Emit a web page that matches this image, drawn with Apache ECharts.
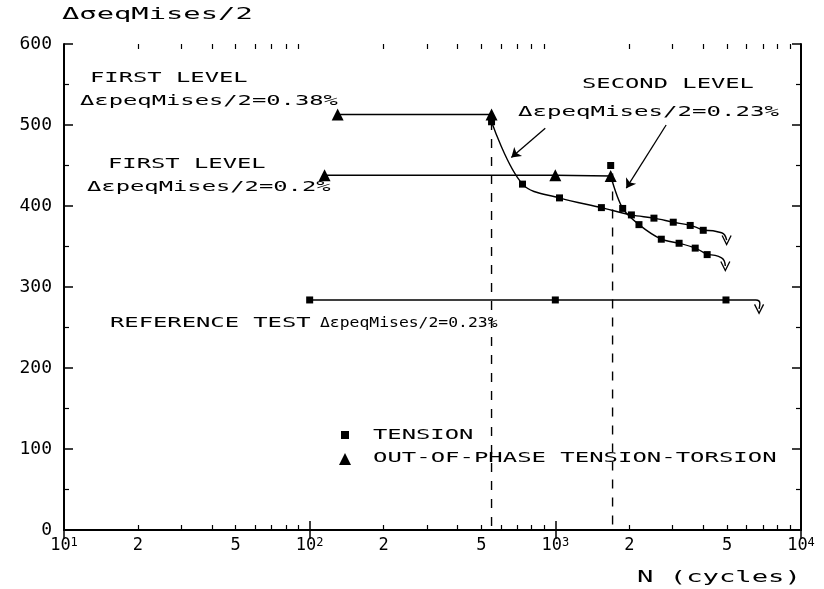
<!DOCTYPE html>
<html>
  <head>
    <meta charset="utf-8" />
  </head>
  <body style="margin: 0">
    <div id="container" style="width: 824px; height: 589px"></div>
    <script src="https://cdn.jsdelivr.net/npm/echarts@6/dist/echarts.min.js"></script>
    <script>
      var FONT = "DejaVu Sans Mono";

      // N (cycles) vs stress amplitude
      var refTest = [[100, 284], [1000, 284], [4950, 284]];
      var refRunout = [[4950, 284], [6550, 284], [6800, 280], [6750, 273]];

      var firstHigh = [[130, 513], [550, 513]];
      var firstLow = [[115, 438], [1000, 438], [1680, 437]];

      var tensionA = [[550, 504], [735, 427], [1040, 410], [1540, 398], [2040, 389],
        [2520, 385], [3020, 380], [3540, 376], [4000, 370]];
      var runoutA = [[4000, 370], [4750, 367], [4980, 358]];

      var tensionB = [[1680, 437], [1880, 397], [2190, 377], [2700, 359], [3190, 354],
        [3710, 348], [4150, 340]];
      var runoutB = [[4150, 340], [4750, 336], [4920, 326]];
      var tensionPeak = [[1680, 450]];

      var dashA = [[550, 505], [550, 0]];
      var dashB = [[1710, 440], [1710, 0]];

      var arrowA = [[910, 496], [662, 460]];
      var arrowB = [[2825, 500], [1945, 422]];

      var xLabelValues = [10, 20, 50, 100, 200, 500, 1000, 2000, 5000, 10000];
      var decades = [10, 100, 1000, 10000];
      var minorTicks = [20, 30, 40, 50, 60, 70, 80, 90, 200, 300, 400, 500, 600, 700, 800, 900,
        2000, 3000, 4000, 5000, 6000, 7000, 8000, 9000];

      var vee = "path://M0,0 L5,8 L10,0";

      function txt(x, y, s, size, sx) {
        return {
          type: "text",
          x: x,
          y: y,
          scaleX: sx,
          style: {
            text: s,
            font: size + "px " + FONT,
            fill: "#000",
            verticalAlign: "middle"
          }
        };
      }

      function withEnd(arr) {
        return arr.map(function (p, i) {
          if (i === arr.length - 1) {
            return { value: p, symbol: vee, symbolSize: [9, 9] };
          }
          return { value: p, symbol: "none" };
        });
      }

      var black = "#000";
      var lineW = 1.4;

      var dom = document.getElementById("container");
      var myChart = echarts.init(dom);

      var xMajor = {
        type: "log",
        logBase: 10,
        min: 10,
        max: 10000,
        axisLine: { show: true, lineStyle: { color: black, width: 2 } },
        axisTick: { show: true, inside: true, length: 9, customValues: decades, lineStyle: { color: black, width: 1.5 } },
        splitLine: { show: false }
      };

      var option = {
        animation: false,
        backgroundColor: "#fff",
        grid: [
          { left: 64, right: 23, top: 44, bottom: 59 },
          { left: 64, right: 23, top: 44, bottom: 59 }
        ],
        xAxis: [
          Object.assign({}, xMajor, {
            gridIndex: 0,
            position: "bottom",
            axisLabel: {
              customValues: xLabelValues,
              margin: 7,
              color: black,
              fontFamily: FONT,
              fontSize: 17,
              rich: {
                b: { fontFamily: FONT, fontSize: 17, color: black },
                e: { fontFamily: FONT, fontSize: 12, color: black, verticalAlign: "top", padding: [0, 0, 6, 0] }
              },
              formatter: function (v) {
                var e = Math.round(Math.log10(v));
                if (Math.abs(v - Math.pow(10, e)) < 1e-6) return "{b|10}{e|" + e + "}";
                return String(Math.round(v / Math.pow(10, Math.floor(Math.log10(v) + 1e-9))));
              }
            }
          }),
          Object.assign({}, xMajor, { gridIndex: 0, position: "top", axisLabel: { show: false } }),
          {
            gridIndex: 1, type: "log", min: 10, max: 10000, position: "bottom",
            axisLine: { show: false }, axisLabel: { show: false }, splitLine: { show: false },
            axisTick: { show: true, inside: true, length: 5, customValues: minorTicks, lineStyle: { color: black, width: 1.2 } }
          },
          {
            gridIndex: 1, type: "log", min: 10, max: 10000, position: "top",
            axisLine: { show: false }, axisLabel: { show: false }, splitLine: { show: false },
            axisTick: { show: true, inside: true, length: 5, customValues: minorTicks, lineStyle: { color: black, width: 1.2 } }
          }
        ],
        yAxis: [
          {
            gridIndex: 0, type: "value", min: 0, max: 600, interval: 100, position: "left",
            axisLine: { show: true, lineStyle: { color: black, width: 2 } },
            axisTick: { show: true, inside: true, length: 9, lineStyle: { color: black, width: 1.5 } },
            minorTick: { show: true, splitNumber: 2, length: 5, lineStyle: { color: black, width: 1.2 } },
            splitLine: { show: false },
            axisLabel: { margin: 12, color: black, fontFamily: FONT, fontSize: 18 }
          },
          {
            gridIndex: 0, type: "value", min: 0, max: 600, interval: 100, position: "right",
            axisLine: { show: true, lineStyle: { color: black, width: 2 } },
            axisTick: { show: true, inside: true, length: 9, lineStyle: { color: black, width: 1.5 } },
            minorTick: { show: true, splitNumber: 2, length: 5, lineStyle: { color: black, width: 1.2 } },
            splitLine: { show: false },
            axisLabel: { show: false }
          },
          { gridIndex: 1, type: "value", min: 0, max: 600, show: false }
        ],
        series: [
          {
            name: "reference", type: "line", data: refTest,
            symbol: "rect", symbolSize: 7, itemStyle: { color: black },
            lineStyle: { color: black, width: lineW }
          },
          {
            name: "reference runout", type: "line", data: withEnd(refRunout), smooth: 0.5,
            itemStyle: { color: "transparent", borderColor: black, borderWidth: 1.3 },
            lineStyle: { color: black, width: lineW }
          },
          {
            name: "first 0.38", type: "line", data: firstHigh,
            symbol: "triangle", symbolSize: 12, itemStyle: { color: black },
            lineStyle: { color: black, width: lineW }
          },
          {
            name: "first 0.2", type: "line", data: firstLow,
            symbol: "triangle", symbolSize: 12, itemStyle: { color: black },
            lineStyle: { color: black, width: lineW }
          },
          {
            name: "tension A", type: "line", data: tensionA, smooth: 0.35,
            symbol: "rect", symbolSize: 7, itemStyle: { color: black },
            lineStyle: { color: black, width: lineW },
            markLine: {
              silent: true,
              symbol: ["none", "arrow"],
              symbolSize: 9,
              label: { show: false },
              lineStyle: { color: black, width: 1.3, type: "solid" },
              data: [
                [{ coord: arrowA[0] }, { coord: arrowA[1] }],
                [{ coord: arrowB[0] }, { coord: arrowB[1] }]
              ]
            }
          },
          {
            name: "runout A", type: "line", data: withEnd(runoutA), smooth: 0.5,
            itemStyle: { color: "transparent", borderColor: black, borderWidth: 1.3 },
            lineStyle: { color: black, width: lineW }
          },
          {
            name: "tension B", type: "line", smooth: 0.3,
            data: tensionB.map(function (p, i) {
              return i === 0 ? { value: p, symbol: "none" } : p;
            }),
            symbol: "rect", symbolSize: 7, itemStyle: { color: black },
            lineStyle: { color: black, width: lineW }
          },
          {
            name: "runout B", type: "line", data: withEnd(runoutB), smooth: 0.5,
            itemStyle: { color: "transparent", borderColor: black, borderWidth: 1.3 },
            lineStyle: { color: black, width: lineW }
          },
          {
            name: "tension peak", type: "scatter", data: tensionPeak,
            symbol: "rect", symbolSize: 7, itemStyle: { color: black, opacity: 1 }
          },
          {
            name: "dash A", type: "line", data: dashA, symbol: "none",
            lineStyle: { color: black, width: 1.4, type: [9, 9] }
          },
          {
            name: "dash B", type: "line", data: dashB, symbol: "none",
            lineStyle: { color: black, width: 1.4, type: [9, 9] }
          }
        ],
        graphic: [
          txt(62, 15, "\u0394\u03c3eqMises/2", 16, 1.8),
          txt(90, 78, "FIRST LEVEL", 14, 1.7),
          txt(80, 101, "\u0394\u03b5peqMises/2=0.38%", 14, 1.7),
          txt(108, 164, "FIRST LEVEL", 14, 1.7),
          txt(87, 187, "\u0394\u03b5peqMises/2=0.2%", 14, 1.7),
          txt(582, 84, "SECOND LEVEL", 14, 1.7),
          txt(518, 112, "\u0394\u03b5peqMises/2=0.23%", 14, 1.72),
          txt(110, 323, "REFERENCE TEST", 14, 1.7),
          txt(320, 323, "\u0394\u03b5peqMises/2=0.23%", 14, 1.17),
          {
            type: "rect",
            shape: { x: 341, y: 431, width: 8, height: 8 },
            style: { fill: black }
          },
          {
            type: "polygon",
            shape: { points: [[345, 453], [339, 465], [351, 465]] },
            style: { fill: black }
          },
          txt(373, 435, "TENSION", 14, 1.7),
          txt(373, 458, "OUT-OF-PHASE TENSION-TORSION", 14, 1.71),
          txt(637, 578, "N (cycles)", 16, 1.7)
        ]
      };

      myChart.setOption(option);
    </script>
  </body>
</html>
